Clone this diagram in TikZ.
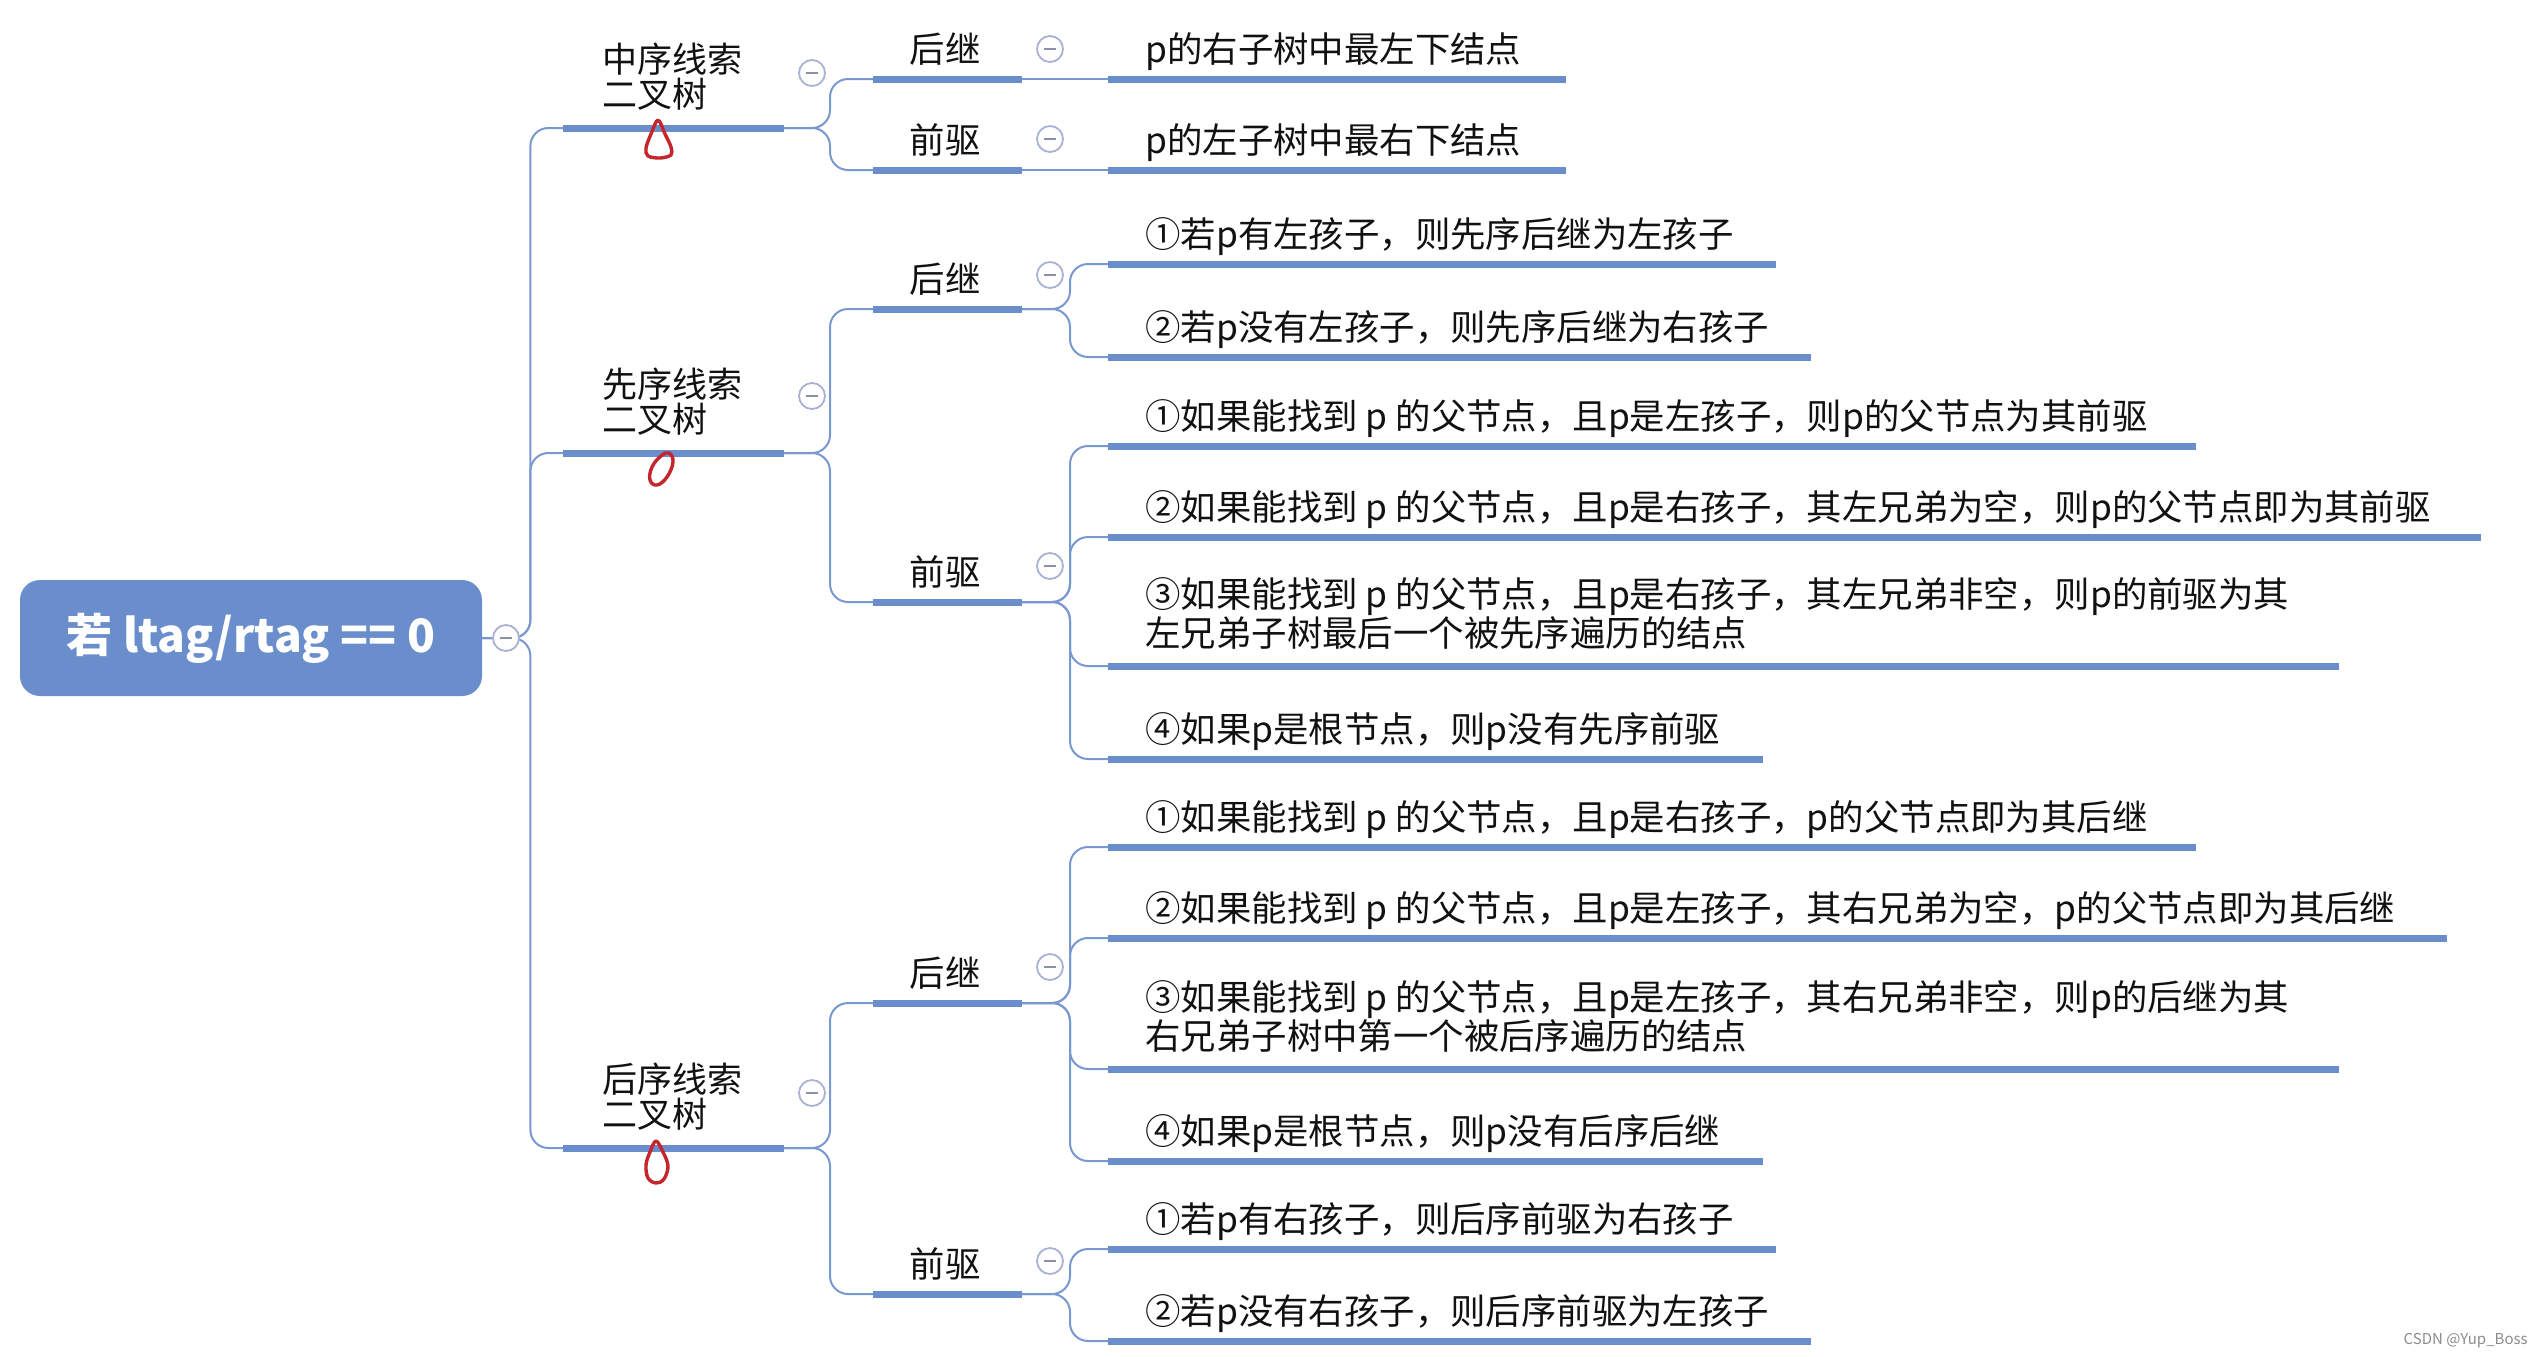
\documentclass[tikz,border=0pt]{standalone}
\usepackage{fontspec}
\setmainfont{Noto Sans CJK SC}
\definecolor{mmblue}{HTML}{6A8ECC}
\definecolor{mmline}{HTML}{7A98D0}
\definecolor{mmring}{HTML}{A9B2D6}
\definecolor{mmminus}{HTML}{8A90A8}
\definecolor{mmred}{HTML}{C4262B}
\definecolor{mmtext}{HTML}{111111}
\begin{document}
\begin{tikzpicture}[x=0.5pt,y=-0.5pt,
  ul/.style={draw=mmblue,line width=3.5pt},
  conn/.style={draw=mmline,line width=1pt,rounded corners=9pt},
  txt/.style={inner sep=0pt,font=\fontsize{17.7}{19.5}\selectfont,text=mmtext},
  ltxt/.style={inner sep=0pt,font=\fontsize{17.5}{17.5}\selectfont,text=mmtext,align=left,anchor=base west},
  lftxt/.style={txt,anchor=base west},
  mtxt/.style={txt,anchor=base},
  fold/.style={circle,draw=mmring,fill=white,line width=0.9pt,minimum size=13pt,inner sep=0pt,
    path picture={\draw[draw=mmminus,line width=0.8pt] ([xshift=-3pt]path picture bounding box.center) -- ([xshift=3pt]path picture bounding box.center);}},
  redmark/.style={draw=mmred,line width=1.7pt,line join=round}]
\useasboundingbox (0,0) rectangle (2536,1356);
\fill[white] (0,0) rectangle (2536,1356);

% root
\node[fill=mmblue,rounded corners=10pt,minimum width=231pt,minimum height=58pt,inner sep=0pt,
  text=white,font=\fontsize{23}{26}\selectfont\bfseries] (root) at (251,638) {若 ltag/rtag == 0};

% level-1 underline coordinates
\coordinate (As) at (563,128);  \coordinate (Ae) at (784,128);
\coordinate (Bs) at (563,453);  \coordinate (Be) at (784,453);
\coordinate (Cs) at (563,1148); \coordinate (Ce) at (784,1148);
% level-2
\coordinate (A1s) at (873,79);   \coordinate (A1e) at (1022,79);
\coordinate (A2s) at (873,170);  \coordinate (A2e) at (1022,170);
\coordinate (B1s) at (873,309);  \coordinate (B1e) at (1022,309);
\coordinate (B2s) at (873,602);  \coordinate (B2e) at (1022,602);
\coordinate (C1s) at (873,1003); \coordinate (C1e) at (1022,1003);
\coordinate (C2s) at (873,1294); \coordinate (C2e) at (1022,1294);
% leaves
\coordinate (A1as) at (1108,79);   \coordinate (A1ae) at (1566,79);
\coordinate (A2as) at (1108,170);  \coordinate (A2ae) at (1566,170);
\coordinate (B1as) at (1108,264);  \coordinate (B1ae) at (1776,264);
\coordinate (B1bs) at (1108,357);  \coordinate (B1be) at (1811,357);
\coordinate (B2as) at (1108,446);  \coordinate (B2ae) at (2196,446);
\coordinate (B2bs) at (1108,537);  \coordinate (B2be) at (2481,537);
\coordinate (B2cs) at (1108,666);  \coordinate (B2ce) at (2339,666);
\coordinate (B2ds) at (1108,759);  \coordinate (B2de) at (1763,759);
\coordinate (C1as) at (1108,847);  \coordinate (C1ae) at (2196,847);
\coordinate (C1bs) at (1108,938);  \coordinate (C1be) at (2447,938);
\coordinate (C1cs) at (1108,1069); \coordinate (C1ce) at (2339,1069);
\coordinate (C1ds) at (1108,1161); \coordinate (C1de) at (1763,1161);
\coordinate (C2as) at (1108,1249); \coordinate (C2ae) at (1776,1249);
\coordinate (C2bs) at (1108,1341); \coordinate (C2be) at (1811,1341);

% connectors
\draw[conn] (root.east) -- ++(48,0) |- (As);
\draw[conn] (root.east) -- ++(48,0) |- (Bs);
\draw[conn] (root.east) -- ++(48,0) |- (Cs);
\draw[conn] (Ae) -- ++(46,0) |- (A1s);
\draw[conn] (Ae) -- ++(46,0) |- (A2s);
\draw[conn] (Be) -- ++(46,0) |- (B1s);
\draw[conn] (Be) -- ++(46,0) |- (B2s);
\draw[conn] (Ce) -- ++(46,0) |- (C1s);
\draw[conn] (Ce) -- ++(46,0) |- (C2s);
\draw[conn] (A1e) -- (A1as);
\draw[conn] (A2e) -- (A2as);
\foreach \p/\c in {B1/B1a,B1/B1b,B2/B2a,B2/B2b,B2/B2c,B2/B2d,C1/C1a,C1/C1b,C1/C1c,C1/C1d,C2/C2a,C2/C2b}
  \draw[conn] (\p e) -- ++(48,0) |- (\c s);

% underlines
\foreach \u in {A,B,C,A1,A2,B1,B2,C1,C2,A1a,A2a,B1a,B1b,B2a,B2b,B2c,B2d,C1a,C1b,C1c,C1d,C2a,C2b}
  \draw[ul] (\u s) -- (\u e);

% fold markers
\node[fold] (f0) at (506,638) {};
\node[fold] (fA) at (812,73) {};
\node[fold] (fB) at (812,396) {};
\node[fold] (fC) at (812,1093) {};
\node[fold] (fA1) at (1050,49) {};
\node[fold] (fA2) at (1050,139) {};
\node[fold] (fB1) at (1050,275) {};
\node[fold] (fB2) at (1050,566) {};
\node[fold] (fC1) at (1050,967) {};
\node[fold] (fC2) at (1050,1261) {};

% level-1 texts (base = last line)
\node[ltxt] (tA) at (602,107) {中序线索\\二叉树};
\node[ltxt] (tB) at (602,432) {先序线索\\二叉树};
\node[ltxt] (tC) at (602,1127) {后序线索\\二叉树};

% level-2 texts
\node[mtxt] (tA1) at (945,62) {后继};
\node[mtxt] (tA2) at (945,153) {前驱};
\node[mtxt] (tB1) at (945,292) {后继};
\node[mtxt] (tB2) at (945,585) {前驱};
\node[mtxt] (tC1) at (945,986) {后继};
\node[mtxt] (tC2) at (945,1277) {前驱};

% leaf texts
\node[lftxt] (tA1a) at (1145,62) {p的右子树中最左下结点};
\node[lftxt] (tA2a) at (1145,153) {p的左子树中最右下结点};
\node[lftxt] (tB1a) at (1145,247) {①若p有左孩子，则先序后继为左孩子};
\node[lftxt] (tB1b) at (1145,340) {②若p没有左孩子，则先序后继为右孩子};
\node[lftxt] (tB2a) at (1145,429) {①如果能找到 p 的父节点，且p是左孩子，则p的父节点为其前驱};
\node[lftxt] (tB2b) at (1145,520) {②如果能找到 p 的父节点，且p是右孩子，其左兄弟为空，则p的父节点即为其前驱};
\node[lftxt,align=left] (tB2c) at (1145,646) {③如果能找到 p 的父节点，且p是右孩子，其左兄弟非空，则p的前驱为其\\左兄弟子树最后一个被先序遍历的结点};
\node[lftxt] (tB2d) at (1145,742) {④如果p是根节点，则p没有先序前驱};
\node[lftxt] (tC1a) at (1145,830) {①如果能找到 p 的父节点，且p是右孩子，p的父节点即为其后继};
\node[lftxt] (tC1b) at (1145,921) {②如果能找到 p 的父节点，且p是左孩子，其右兄弟为空，p的父节点即为其后继};
\node[lftxt,align=left] (tC1c) at (1145,1049) {③如果能找到 p 的父节点，且p是左孩子，其右兄弟非空，则p的后继为其\\右兄弟子树中第一个被后序遍历的结点};
\node[lftxt] (tC1d) at (1145,1144) {④如果p是根节点，则p没有后序后继};
\node[lftxt] (tC2a) at (1145,1232) {①若p有右孩子，则后序前驱为右孩子};
\node[lftxt] (tC2b) at (1145,1324) {②若p没有右孩子，则后序前驱为左孩子};

% red hand marks
\draw[redmark] plot[smooth cycle,tension=0.55] coordinates {(658,120) (665,134) (671,147) (671,155) (660,158) (648,156) (646,148) (651,134)};
\draw[redmark] plot[smooth cycle,tension=0.7] coordinates {(669,453) (673,462) (667,477) (657,485) (650,480) (652,467) (661,456)};
\draw[redmark] plot[smooth cycle,tension=0.6] coordinates {(656,1141) (663,1152) (668,1166) (664,1179) (656,1183) (648,1178) (646,1165) (650,1152)};

% watermark
\node[inner sep=0pt,anchor=east,font=\fontsize{7.5}{8}\selectfont,text=black!45] (wm) at (2528,1341) {CSDN @Yup\_Boss};
\end{tikzpicture}
\end{document}
